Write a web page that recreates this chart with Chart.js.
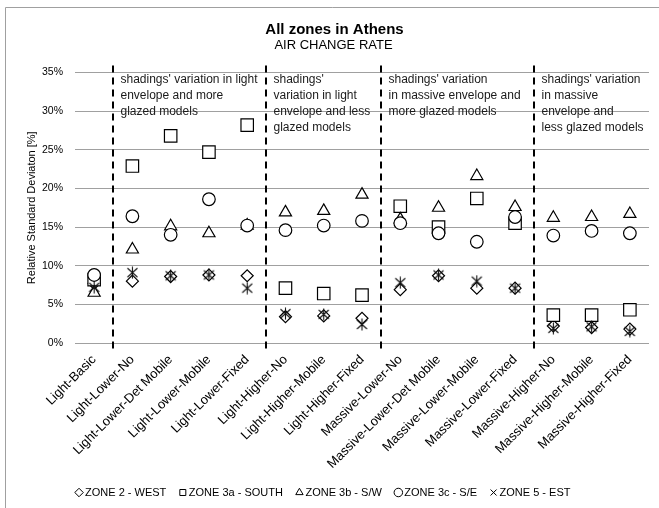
<!DOCTYPE html>
<html>
<head>
<meta charset="utf-8">
<title>All zones in Athens - Air change rate</title>
<script src="https://cdn.jsdelivr.net/npm/chart.js@4.4.0/dist/chart.umd.min.js"></script>
<style>
    html, body { margin: 0; padding: 0; background: #fff; }
    #wrap { width: 659px; height: 508px; }
</style>
</head>
<body>
<div id="wrap"><canvas id="chart" width="659" height="508"></canvas></div>
<script>
// Model variants along the x axis
const categories = [
    'Light-Basic', 'Light-Lower-No', 'Light-Lower-Det Mobile', 'Light-Lower-Mobile', 'Light-Lower-Fixed',
    'Light-Higher-No', 'Light-Higher-Mobile', 'Light-Higher-Fixed',
    'Massive-Lower-No', 'Massive-Lower-Det Mobile', 'Massive-Lower-Mobile', 'Massive-Lower-Fixed',
    'Massive-Higher-No', 'Massive-Higher-Mobile', 'Massive-Higher-Fixed'
];

// Relative standard deviation [%] per zone
const zone2West   = [7.7, 8.0, 8.6, 8.8, 8.7, 3.4, 3.5, 3.2, 6.9, 8.7, 7.1, 7.1, 2.2, 2.0, 1.8];
const zone3aSouth = [8.2, 22.9, 26.8, 24.7, 28.2, 7.1, 6.4, 6.2, 17.7, 15.0, 18.7, 15.5, 3.6, 3.6, 4.3];
const zone3bSW    = [6.5, 12.1, 15.1, 14.2, 15.2, 16.9, 17.1, 19.2, 16.0, 17.5, 21.6, 17.6, 16.2, 16.3, 16.7];
const zone3cSE    = [8.8, 16.4, 14.0, 18.6, 15.2, 14.6, 15.2, 15.8, 15.5, 14.2, 13.1, 16.3, 13.9, 14.5, 14.2];
const zone5Est    = [7.2, 9.1, 8.7, 8.8, 7.1, 3.8, 3.7, 2.4, 7.8, 8.8, 8.0, 7.1, 1.9, 2.1, 1.5];

const yTickValues = [0, 5, 10, 15, 20, 25, 30, 35];

const chartTitle = 'All zones in Athens';
const chartSubtitle = 'AIR CHANGE RATE';

// Dashed separators sit between these category indices
const groupDividers = [0.5, 4.5, 7.5, 11.5];
const groupNotes = [
    ["shadings' variation in light", 'envelope and more', 'glazed models'],
    ["shadings'", 'variation in light', 'envelope and less', 'glazed models'],
    ["shadings' variation", 'in massive envelope and', 'more glazed models'],
    ["shadings' variation", 'in massive', 'envelope and', 'less glazed models']
];

const FONT = "'Liberation Sans', Arial, sans-serif";
Chart.defaults.font.family = FONT;
Chart.defaults.color = '#000';

// Excel-like "star" marker: an X with a vertical stroke
const starMarker = document.createElement('canvas');
starMarker.width = 13;
starMarker.height = 13;
(function () {
    const c = starMarker.getContext('2d');
    c.strokeStyle = '#111';
    c.lineWidth = 1.1;
    c.beginPath();
    c.moveTo(1.5, 2); c.lineTo(11.5, 11);
    c.moveTo(11.5, 2); c.lineTo(1.5, 11);
    c.moveTo(6.5, 0.5); c.lineTo(6.5, 12.5);
    c.stroke();
})();

function series(label, data, style, radius, order) {
    return {
        label: label,
        data: data,
        order: order,
        showLine: false,
        pointStyle: style,
        pointRadius: radius,
        pointHoverRadius: radius,
        pointBackgroundColor: '#fff',
        pointBorderColor: '#000',
        pointBorderWidth: 1.2,
        backgroundColor: '#fff',
        borderColor: '#000'
    };
}

const framePlugin = {
    id: 'frame',
    beforeDraw(chart) {
        const ctx = chart.ctx;
        ctx.save();
        ctx.fillStyle = '#fff';
        ctx.fillRect(0, 0, chart.width, chart.height);
        ctx.strokeStyle = '#a0a0a0';
        ctx.lineWidth = 1;
        ctx.beginPath();
        ctx.moveTo(5.5, chart.height);
        ctx.lineTo(5.5, 7.5);
        ctx.lineTo(chart.width, 7.5);
        ctx.stroke();

        // title block, centred a little right of the canvas middle like the original
        ctx.fillStyle = '#000';
        ctx.textAlign = 'center';
        ctx.textBaseline = 'middle';
        ctx.font = 'bold 15px ' + FONT;
        ctx.fillText(chartTitle, 334.5, 30);
        ctx.font = '13px ' + FONT;
        ctx.fillText(chartSubtitle, 333.5, 45);
        ctx.restore();
    }
};

const groupsPlugin = {
    id: 'groups',
    afterDraw(chart) {
        const ctx = chart.ctx;
        const area = chart.chartArea;
        const x = chart.scales.x;
        ctx.save();
        groupDividers.forEach(function (d, i) {
            const px = Math.round(x.getPixelForValue(d));
            ctx.strokeStyle = '#000';
            ctx.lineWidth = 2;
            ctx.setLineDash([7, 5]);
            ctx.beginPath();
            ctx.moveTo(px, area.top - 7);
            ctx.lineTo(px, area.bottom + 10);
            ctx.stroke();

            ctx.fillStyle = '#1a1a1a';
            ctx.font = '12px ' + FONT;
            ctx.textAlign = 'left';
            ctx.textBaseline = 'middle';
            groupNotes[i].forEach(function (line, j) {
                ctx.fillText(line, px + 7.5, area.top + 7.5 + j * 15.8);
            });
        });
        ctx.restore();
    }
};

new Chart(document.getElementById('chart'), {
    type: 'line',
    data: {
        labels: categories,
        datasets: [
            series('ZONE 2 - WEST', zone2West, 'rectRot', 6, 4),
            series('ZONE 3a - SOUTH', zone3aSouth, 'rect', 8.8, 3),
            series('ZONE 3b - S/W', zone3bSW, 'triangle', 7, 2),
            series('ZONE 3c - S/E', zone3cSE, 'circle', 6.3, 1),
            series('ZONE 5 - EST', zone5Est, starMarker, 6, 0)
        ]
    },
    options: {
        responsive: false,
        animation: false,
        layout: { padding: { left: 0, right: 10, top: 72.5, bottom: 0 } },
        plugins: {
            title: { display: false },
            legend: {
                position: 'bottom',
                labels: {
                    usePointStyle: true,
                    boxWidth: 1,
                    boxHeight: 6,
                    padding: 16,
                    color: '#000',
                    font: { size: 11 },
                    sort: function (a, b) { return a.datasetIndex - b.datasetIndex; },
                    generateLabels: function (chart) {
                        const items = Chart.defaults.plugins.legend.labels.generateLabels(chart);
                        items.forEach(function (it) {
                            if (it.pointStyle instanceof HTMLCanvasElement) {
                                it.pointStyle = 'crossRot';
                            }
                            it.fillStyle = '#fff';
                            it.strokeStyle = '#000';
                            it.lineWidth = 1;
                        });
                        return items;
                    }
                }
            },
            tooltip: { enabled: false }
        },
        scales: {
            x: {
                offset: true,
                grid: { display: false },
                border: { display: false },
                ticks: {
                    autoSkip: false,
                    minRotation: 45,
                    maxRotation: 45,
                    padding: 1,
                    color: '#000',
                    font: { size: 13 }
                },
                afterFit: function (s) { s.height = 128; }
            },
            y: {
                min: 0,
                max: 35,
                afterBuildTicks: function (s) {
                    s.ticks = yTickValues.map(function (v) { return { value: v }; });
                },
                grid: { color: '#a0a0a0', drawTicks: false },
                border: { display: false },
                ticks: {
                    padding: 12,
                    color: '#000',
                    font: { size: 10.5 },
                    callback: function (v) { return v + '%'; }
                },
                title: {
                    display: true,
                    text: 'Relative Standard Deviaton [%]',
                    color: '#000',
                    font: { size: 11, lineHeight: 1.2 },
                    padding: { top: 25.4, bottom: 0 }
                },
                afterFit: function (s) { s.width = 75; }
            }
        }
    },
    plugins: [framePlugin, groupsPlugin]
});
</script>
</body>
</html>
